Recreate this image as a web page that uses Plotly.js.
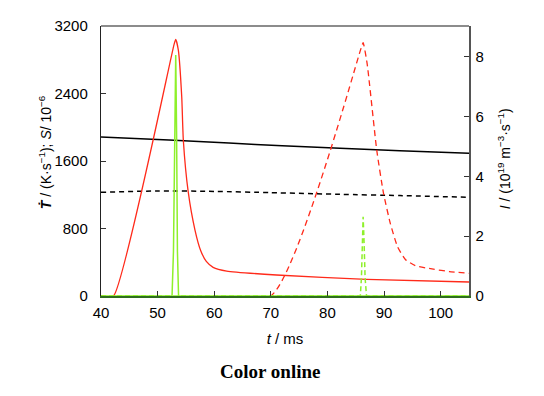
<!DOCTYPE html>
<html>
<head>
<meta charset="utf-8">
<script src="https://cdn.plot.ly/plotly-3.0.1.min.js"></script>
<style>html,body{margin:0;padding:0;background:#fff;}#chart{width:544px;height:396px;}</style>
</head>
<body>
<div id="chart"></div>
<script>
// Cooling rate T-dot (left axis), case 1 (solid) and case 2 (dashed)
const tRed1 = [40, 42.2, 52.9, 53.2, 53.66, 54.26, 54.54, 55.4, 56.6, 57.6, 58.6, 59.8, 62.2, 71, 86.9, 105];
const vRed1 = [0, 0, 2980, 3042, 2915, 2362, 1849, 1236, 782, 540, 410, 340, 295, 249, 198, 166];
const tRed2 = [40, 70, 86.0, 86.3, 87.0, 88.7, 89.9, 91.1, 92.4, 93.8, 95.5, 98.7, 101.5, 105];
const vRed2 = [0, 0, 2950, 3002, 2758, 1730, 1217, 861, 580, 430, 360, 318, 290, 269];
// Supersaturation S (left axis)
const tBlack1 = [40, 52, 62.6, 72, 82.2, 92.8, 105];
const vBlack1 = [1884, 1849, 1812, 1782, 1752, 1722, 1691];
const tBlack2 = [40, 50, 60, 70, 82.2, 92.8, 105];
const vBlack2 = [1229, 1245, 1240, 1225, 1205, 1190, 1170];
// Nucleation rate I (right axis)
const tGreen1 = [40, 52.55, 52.8, 53.0, 53.2, 53.35, 53.5, 53.7, 105];
const vGreen1 = [0, 0, 1.5, 5.5, 8.06, 5.5, 1.5, 0, 0];
const tGreen2 = [40, 85.8, 86.0, 86.15, 86.3, 86.45, 86.65, 86.9, 105];
const vGreen2 = [0, 0, 0.6, 1.9, 2.65, 1.9, 0.6, 0, 0];

const xTicks = [40, 50, 60, 70, 80, 90, 100];
const yTicks = [0, 800, 1600, 2400, 3200];
const y2Ticks = [0, 2, 4, 6, 8];

const red = '#ff2a1a', green = '#8ef02a';
const traces = [
  {x: tGreen1, y: vGreen1, yaxis: 'y2', mode: 'lines', line: {color: green, width: 1.5}},
  {x: tGreen2, y: vGreen2, yaxis: 'y2', mode: 'lines', line: {color: green, width: 1.5, dash: '5px,3px'}},
  {x: tBlack1, y: vBlack1, mode: 'lines', line: {color: '#000', width: 1.5, shape: 'spline', smoothing: 0.6}},
  {x: tBlack2, y: vBlack2, mode: 'lines', line: {color: '#000', width: 1.5, dash: '5px,4px', shape: 'spline', smoothing: 0.6}},
  {x: tRed1, y: vRed1, mode: 'lines', line: {color: red, width: 1.3, shape: 'spline', smoothing: 0.5}},
  {x: tRed2, y: vRed2, mode: 'lines', line: {color: red, width: 1.3, dash: '6px,4px', shape: 'spline', smoothing: 0.5}}
];

const font = {family: '"Liberation Sans", Arial, sans-serif', size: 15, color: '#000'};
const titleFont = {family: '"Liberation Sans", Arial, sans-serif', size: 14, color: '#000'};
const layout = {
  width: 544, height: 396,
  margin: {l: 101, r: 75, t: 26, b: 100},
  paper_bgcolor: '#fff', plot_bgcolor: '#fff',
  showlegend: false,
  font: font,
  xaxis: {
    range: [40, 105], tickvals: xTicks, ticks: 'inside', ticklen: 5, tickcolor: '#333',
    showline: true, linecolor: '#2e6e1e', linewidth: 1.5, showgrid: false, zeroline: false,
    tickfont: font, ticklabelstandoff: 2,
    title: {text: '<i>t</i> / ms', font: font, standoff: 14}
  },
  yaxis: {
    range: [0, 3200], tickvals: yTicks, ticks: 'inside', ticklen: 5, tickcolor: '#333',
    showline: true, linecolor: '#222', linewidth: 1.2, showgrid: false, zeroline: false,
    tickfont: font, ticklabelstandoff: 9
  },
  yaxis2: {
    overlaying: 'y', side: 'right', range: [0, 9.03], tickvals: y2Ticks, ticks: 'inside', ticklen: 5,
    tickcolor: '#333', showline: true, linecolor: '#555', linewidth: 1.5, showgrid: false, zeroline: false,
    tickfont: font, ticklabelstandoff: 2
  },
  shapes: [
    {type: 'line', xref: 'paper', yref: 'paper', x0: 0, x1: 1, y0: 1, y1: 1, line: {color: '#666', width: 1.5}}
  ],
  annotations: [
    {xref: 'paper', yref: 'paper', x: -0.152, y: 0.533, textangle: -90, showarrow: false,
     xanchor: 'center', yanchor: 'middle',
     text: '<b><i>Ṫ</i></b> / (K·s<sup>−1</sup>); <i>S</i>/ 10<sup>−6</sup>', font: {family: titleFont.family, size: 14, color: '#000'}},
    {xref: 'paper', yref: 'paper', x: 1.095, y: 0.51, textangle: -90, showarrow: false,
     xanchor: 'center', yanchor: 'middle',
     text: '<i>I</i> / (10<sup>19</sup> m<sup>−3</sup>·s<sup>−1</sup>)', font: titleFont},
    {xref: 'paper', yref: 'paper', x: 0.46, y: -0.28, showarrow: false, xanchor: 'center', yanchor: 'middle',
     text: '<b>Color online</b>', font: {family: '"Liberation Serif", "Times New Roman", serif', size: 19, color: '#000'}}
  ]
};
Plotly.newPlot('chart', traces, layout, {displayModeBar: false, staticPlot: true});
</script>
</body>
</html>
